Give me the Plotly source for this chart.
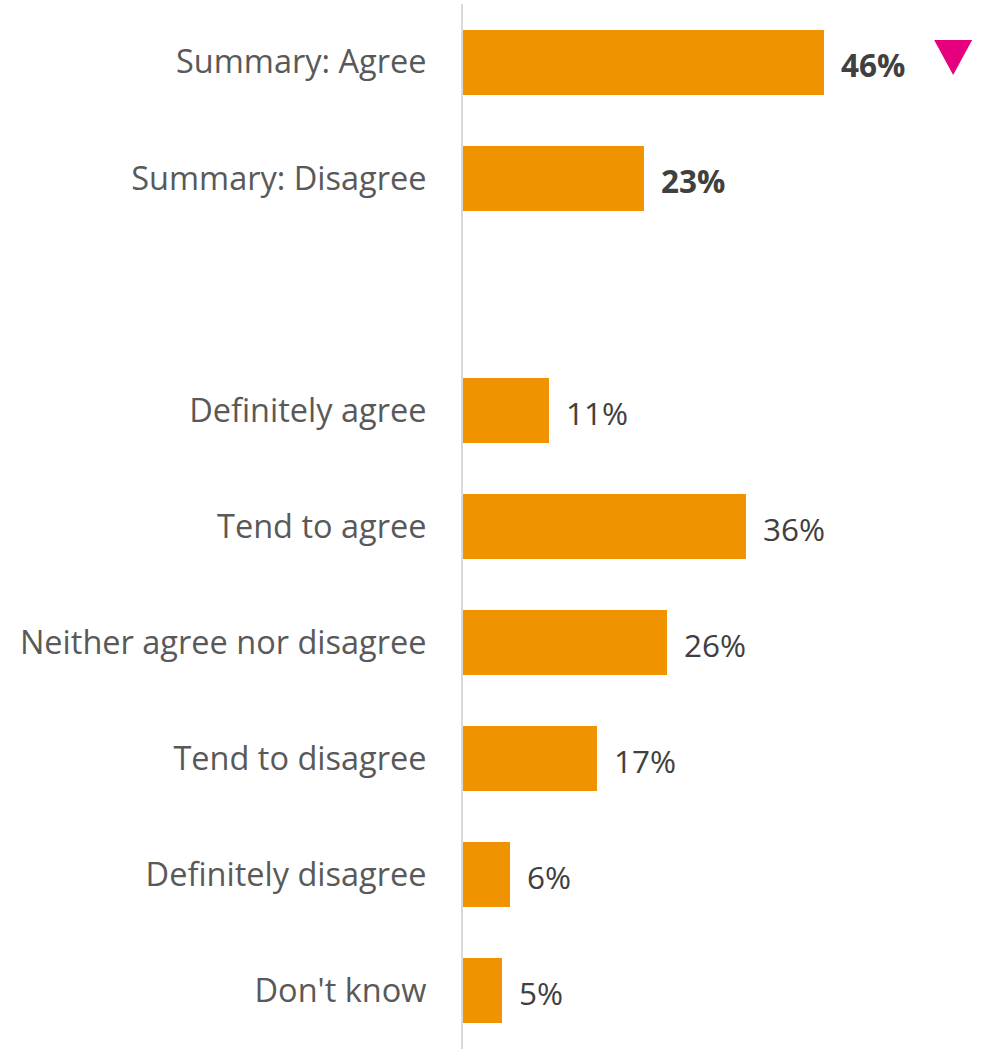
import plotly.graph_objects as go

# Survey response categories (blank row separates summaries from detail)
categories = [
    "Summary: Agree",
    "Summary: Disagree",
    " ",
    "Definitely agree",
    "Tend to agree",
    "Neither agree nor disagree",
    "Tend to disagree",
    "Definitely disagree",
    "Don't know",
]
values = [46, 23, None, 11, 36, 26, 17, 6, 5]
is_summary = [True, True, False, False, False, False, False, False, False]

# Significant decrease flag
flag_category = "Summary: Agree"
flag_offset = 16.4

BAR_COLOR = "#F09300"
FLAG_COLOR = "#E6007E"
TEXT_COLOR = "#404040"
TICK_COLOR = "#595959"
FONT = "Open Sans"

fig = go.Figure()

fig.add_trace(go.Bar(
    y=categories,
    x=values,
    orientation="h",
    marker=dict(color=BAR_COLOR, line=dict(width=0)),
    width=0.56,
    hoverinfo="skip",
    showlegend=False,
))

# Downward triangle drawn in pixel units, anchored next to the flagged bar
flag_idx = categories.index(flag_category)
flag_value = values[flag_idx]
fig.add_shape(
    type="path",
    xref="x", yref="y",
    xsizemode="pixel", ysizemode="pixel",
    xanchor=flag_value + flag_offset, yanchor=flag_idx,
    path="M -19,22 L 19,22 L 0,-13 Z",
    fillcolor=FLAG_COLOR, line=dict(width=0),
)

for cat, val, bold in zip(categories, values, is_summary):
    if val is None:
        continue
    txt = f"<b>{val}%</b>" if bold else f"{val}%"
    fig.add_annotation(
        x=val, y=cat, text=txt, showarrow=False,
        xanchor="left", yanchor="middle", xshift=15, yshift=-2,
        font=dict(family=FONT, size=31.5, color=TEXT_COLOR),
    )

fig.update_layout(
    width=994, height=1049,
    margin=dict(l=463, r=0, t=4, b=0),
    paper_bgcolor="white", plot_bgcolor="white",
    bargap=0,
    xaxis=dict(range=[0, 67.6], visible=False, fixedrange=True),
    yaxis=dict(
        categoryorder="array", categoryarray=categories,
        range=[len(categories) - 0.5, -0.5],
        showgrid=False, zeroline=False,
        showline=True, linecolor="#D9D9D9", linewidth=2,
        ticks="", ticklabelstandoff=28,
        tickfont=dict(family=FONT, size=32.5, color=TICK_COLOR),
    ),
    font=dict(family=FONT),
)

fig.write_html("out.html")
